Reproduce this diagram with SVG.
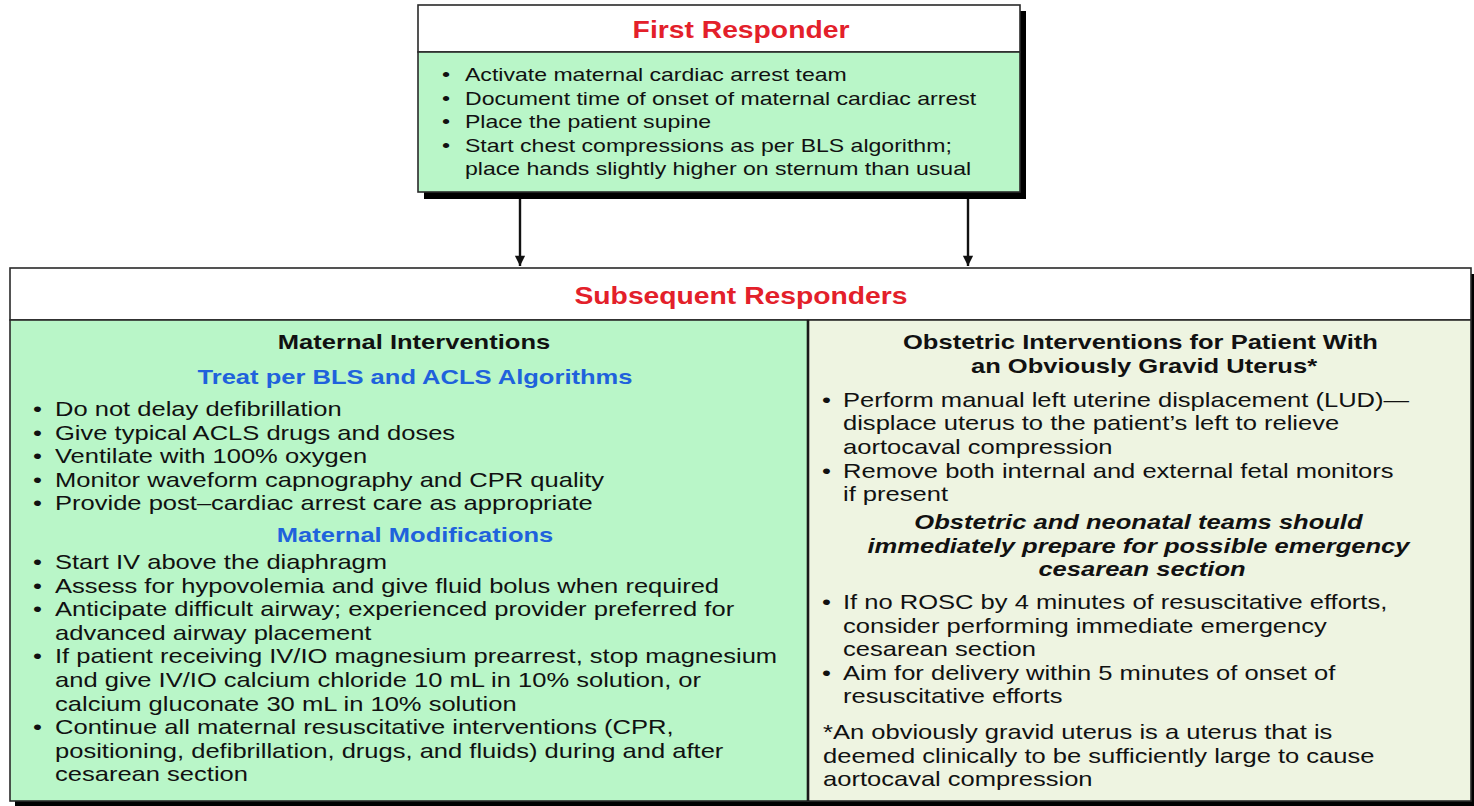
<svg xmlns="http://www.w3.org/2000/svg" width="1474" height="806" viewBox="0 0 1474 806">
  <defs>
    <style>
      .t{font-family:"Liberation Sans",Arial,Helvetica,sans-serif;fill:#111}
      .s18{font-size:18.6px}
      .s20{font-size:20.6px}
      .b{font-weight:bold}
      .i{font-style:italic}
      .title{font-size:23px;font-weight:bold;fill:#e3202a}
      .blue{font-weight:bold;fill:#1f62dc}
      .frame{stroke:#2a2a2a;stroke-width:1.6}
      .shadow{fill:#000}
      .conn{stroke:#111;stroke-width:2.4;fill:none}
    </style>
    <marker id="arrow" viewBox="0 0 12 14" refX="12" refY="6" markerWidth="14" markerHeight="12" markerUnits="userSpaceOnUse" orient="auto">
      <path d="M0,0 L12,6 L0,12 Z" fill="#111"/>
    </marker>
  </defs>
  <rect width="1474" height="806" fill="#ffffff"/>

  <!-- First responder box -->
  <g id="first-responder">
    <rect class="shadow" x="424" y="11" width="602" height="188"/>
    <rect x="418" y="5" width="602" height="47" fill="#ffffff" class="frame"/>
    <rect x="418" y="52" width="602" height="140" fill="#b9f6c8" class="frame"/>
    <text class="t title" text-anchor="middle" transform="translate(741,0) scale(1.23,1)"><tspan x="0" y="38">First Responder</tspan></text>
    <text class="t s18" transform="translate(442,0) scale(1.24,1)">
      <tspan x="0" y="81">•</tspan>
      <tspan x="0" y="105">•</tspan>
      <tspan x="0" y="128">•</tspan>
      <tspan x="0" y="152">•</tspan>
    </text>
    <text class="t s18" transform="translate(465,0) scale(1.24,1)">
      <tspan x="0" y="81">Activate maternal cardiac arrest team</tspan>
      <tspan x="0" y="105">Document time of onset of maternal cardiac arrest</tspan>
      <tspan x="0" y="128">Place the patient supine</tspan>
      <tspan x="0" y="152">Start chest compressions as per BLS algorithm;</tspan>
      <tspan x="0" y="175">place hands slightly higher on sternum than usual</tspan>
    </text>
  </g>

  <!-- Connectors -->
  <g id="connectors">
    <line class="conn" x1="520" y1="199" x2="520" y2="266" marker-end="url(#arrow)"/>
    <line class="conn" x1="968" y1="199" x2="968" y2="266" marker-end="url(#arrow)"/>
  </g>

  <!-- Subsequent responders box -->
  <g id="subsequent-responders">
    <rect class="shadow" x="15" y="274" width="1459" height="532"/>
    <rect x="10" y="268" width="1461" height="52" fill="#ffffff" class="frame"/>
    <rect x="10" y="320" width="798" height="481" fill="#b9f6c8" class="frame"/>
    <rect x="808" y="320" width="663" height="481" fill="#eef4e1" class="frame"/>
    <line x1="808" y1="320" x2="808" y2="801" stroke="#1a1a1a" stroke-width="2.6"/>
    <text class="t title" text-anchor="middle" transform="translate(741,0) scale(1.23,1)"><tspan x="0" y="304">Subsequent Responders</tspan></text>
  </g>

  <!-- Maternal interventions panel -->
  <g id="maternal-interventions">
    <text class="t s20 b" text-anchor="middle" transform="translate(414,0) scale(1.24,1)"><tspan x="0" y="349">Maternal Interventions</tspan></text>
    <text class="t s20 blue" text-anchor="middle" transform="translate(415,0) scale(1.24,1)"><tspan x="0" y="384">Treat per BLS and ACLS Algorithms</tspan></text>
    <text class="t s20" transform="translate(33,0) scale(1.24,1)">
      <tspan x="0" y="416">•</tspan>
      <tspan x="0" y="440">•</tspan>
      <tspan x="0" y="463">•</tspan>
      <tspan x="0" y="487">•</tspan>
      <tspan x="0" y="510">•</tspan>
    </text>
    <text class="t s20" transform="translate(55,0) scale(1.24,1)">
      <tspan x="0" y="416">Do not delay defibrillation</tspan>
      <tspan x="0" y="440">Give typical ACLS drugs and doses</tspan>
      <tspan x="0" y="463">Ventilate with 100% oxygen</tspan>
      <tspan x="0" y="487">Monitor waveform capnography and CPR quality</tspan>
      <tspan x="0" y="510">Provide post–cardiac arrest care as appropriate</tspan>
    </text>
    <text class="t s20 blue" text-anchor="middle" transform="translate(415,0) scale(1.24,1)"><tspan x="0" y="542">Maternal Modifications</tspan></text>
    <text class="t s20" transform="translate(33,0) scale(1.24,1)">
      <tspan x="0" y="569">•</tspan>
      <tspan x="0" y="593">•</tspan>
      <tspan x="0" y="616">•</tspan>
      <tspan x="0" y="663">•</tspan>
      <tspan x="0" y="734">•</tspan>
    </text>
    <text class="t s20" transform="translate(55,0) scale(1.24,1)">
      <tspan x="0" y="569">Start IV above the diaphragm</tspan>
      <tspan x="0" y="593">Assess for hypovolemia and give fluid bolus when required</tspan>
      <tspan x="0" y="616">Anticipate difficult airway; experienced provider preferred for</tspan>
      <tspan x="0" y="640">advanced airway placement</tspan>
      <tspan x="0" y="663">If patient receiving IV/IO magnesium prearrest, stop magnesium</tspan>
      <tspan x="0" y="687">and give IV/IO calcium chloride 10 mL in 10% solution, or</tspan>
      <tspan x="0" y="711">calcium gluconate 30 mL in 10% solution</tspan>
      <tspan x="0" y="734">Continue all maternal resuscitative interventions (CPR,</tspan>
      <tspan x="0" y="758">positioning, defibrillation, drugs, and fluids) during and after</tspan>
      <tspan x="0" y="781">cesarean section</tspan>
    </text>
  </g>

  <!-- Obstetric interventions panel -->
  <g id="obstetric-interventions">
    <text class="t s20 b" text-anchor="middle" transform="translate(1144,0) scale(1.24,1)">
      <tspan x="0" y="349">Obstetric Interventions for Patient With</tspan>
      <tspan x="0" y="373">an Obviously Gravid Uterus*</tspan>
    </text>
    <text class="t s20" transform="translate(822,0) scale(1.24,1)">
      <tspan x="0" y="407">•</tspan>
      <tspan x="0" y="478">•</tspan>
      <tspan x="0" y="609">•</tspan>
      <tspan x="0" y="680">•</tspan>
    </text>
    <text class="t s20" transform="translate(843,0) scale(1.24,1)">
      <tspan x="0" y="407">Perform manual left uterine displacement (LUD)—</tspan>
      <tspan x="0" y="430">displace uterus to the patient’s left to relieve</tspan>
      <tspan x="0" y="454">aortocaval compression</tspan>
      <tspan x="0" y="478">Remove both internal and external fetal monitors</tspan>
      <tspan x="0" y="501">if present</tspan>
    </text>
    <text class="t s20 b i" text-anchor="middle" transform="translate(1142,0) scale(1.24,1)">
      <tspan x="0" y="529">Obstetric and neonatal teams should</tspan>
      <tspan x="0" y="553">immediately prepare for possible emergency</tspan>
      <tspan x="0" y="576">cesarean section</tspan>
    </text>
    <text class="t s20" transform="translate(843,0) scale(1.24,1)">
      <tspan x="0" y="609">If no ROSC by 4 minutes of resuscitative efforts,</tspan>
      <tspan x="0" y="633">consider performing immediate emergency</tspan>
      <tspan x="0" y="656">cesarean section</tspan>
      <tspan x="0" y="680">Aim for delivery within 5 minutes of onset of</tspan>
      <tspan x="0" y="703">resuscitative efforts</tspan>
    </text>
    <text class="t s20" transform="translate(823,0) scale(1.24,1)">
      <tspan x="0" y="739">*An obviously gravid uterus is a uterus that is</tspan>
      <tspan x="0" y="763">deemed clinically to be sufficiently large to cause</tspan>
      <tspan x="0" y="786">aortocaval compression</tspan>
    </text>
  </g>
</svg>
